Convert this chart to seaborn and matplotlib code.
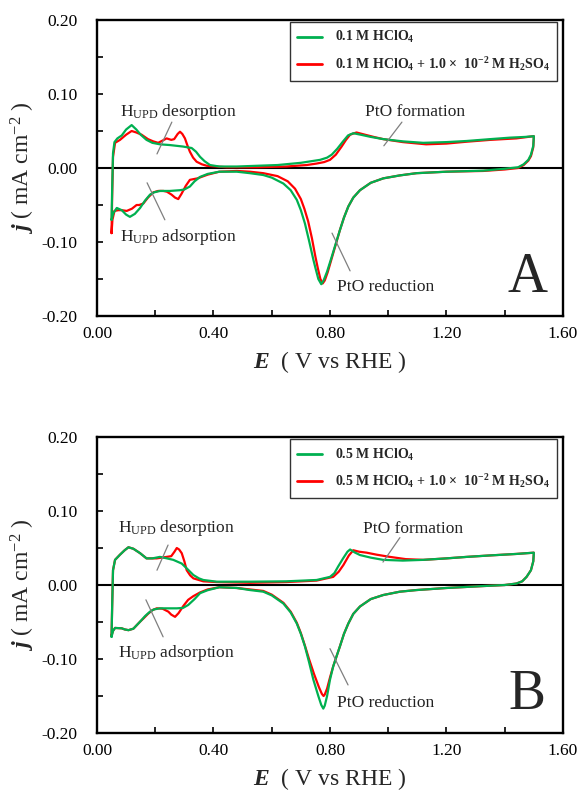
import numpy as np
import pandas as pd
import matplotlib
matplotlib.use("Agg")
import matplotlib.pyplot as plt
from matplotlib.lines import Line2D
import seaborn as sns

# ---------------------------------------------------------------------------
# Cyclic voltammograms of Pt (E in V vs RHE, j in mA cm^-2).
# Each loop: anodic sweep 0.05 -> 1.50 V, then cathodic sweep back to 0.05 V.
# ---------------------------------------------------------------------------

# Panel A, 0.1 M HClO4
a_pure_E = [0.050, 0.052, 0.055, 0.060, 0.070, 0.085, 0.100, 0.119, 0.135, 0.150,
            0.170, 0.190, 0.216, 0.250, 0.295, 0.325, 0.340, 0.354, 0.370, 0.388,
            0.420, 0.480, 0.550, 0.620, 0.700, 0.766, 0.790, 0.806, 0.825, 0.845,
            0.862, 0.880, 0.905, 0.940, 0.983, 1.050, 1.120, 1.200, 1.269, 1.350,
            1.418, 1.470, 1.500,
            1.498, 1.490, 1.481, 1.465, 1.446, 1.400, 1.326, 1.200, 1.097, 1.040,
            0.983, 0.940, 0.903, 0.880, 0.863, 0.848, 0.834, 0.820, 0.806, 0.790,
            0.778, 0.770, 0.760, 0.750, 0.743, 0.728, 0.714, 0.700, 0.686, 0.665,
            0.640, 0.600, 0.571, 0.525, 0.480, 0.420, 0.380, 0.354, 0.335, 0.319,
            0.300, 0.285, 0.250, 0.216, 0.195, 0.182, 0.165, 0.148, 0.130, 0.113,
            0.100, 0.085, 0.068, 0.056, 0.050]
a_pure_j = [-0.070, -0.030, 0.020, 0.035, 0.040, 0.044, 0.052, 0.058, 0.052, 0.045,
            0.038, 0.034, 0.032, 0.031, 0.029, 0.027, 0.022, 0.015, 0.009, 0.004,
            0.002, 0.002, 0.003, 0.004, 0.007, 0.011, 0.014, 0.018, 0.026, 0.036,
            0.044, 0.047, 0.045, 0.042, 0.039, 0.036, 0.034, 0.035, 0.0365, 0.039,
            0.041, 0.042, 0.043,
            0.030, 0.018, 0.011, 0.005, 0.001, -0.001, -0.0036, -0.005, -0.007, -0.010,
            -0.014, -0.020, -0.030, -0.040, -0.052, -0.067, -0.084, -0.102, -0.120, -0.140,
            -0.152, -0.157, -0.150, -0.135, -0.124, -0.098, -0.075, -0.057, -0.043, -0.030,
            -0.021, -0.013, -0.0095, -0.007, -0.005, -0.005, -0.008, -0.012, -0.018, -0.025,
            -0.029, -0.030, -0.031, -0.031, -0.033, -0.036, -0.044, -0.054, -0.062, -0.066,
            -0.063, -0.057, -0.054, -0.061, -0.070]

# Panel A, 0.1 M HClO4 + 1.0e-2 M H2SO4
a_mix_E = [0.050, 0.052, 0.055, 0.062, 0.079, 0.100, 0.119, 0.135, 0.153, 0.175,
           0.193, 0.210, 0.225, 0.239, 0.255, 0.265, 0.277, 0.285, 0.293, 0.302,
           0.310, 0.319, 0.330, 0.342, 0.360, 0.377, 0.445, 0.550, 0.650, 0.720,
           0.754, 0.780, 0.800, 0.820, 0.840, 0.855, 0.869, 0.891, 0.920, 0.950,
           0.983, 1.050, 1.130, 1.200, 1.269, 1.350, 1.440, 1.500,
           1.498, 1.490, 1.481, 1.465, 1.446, 1.400, 1.326, 1.200, 1.097, 1.040,
           0.983, 0.940, 0.903, 0.880, 0.863, 0.848, 0.834, 0.820, 0.806, 0.792,
           0.782, 0.775, 0.767, 0.758, 0.750, 0.738, 0.725, 0.712, 0.700, 0.680,
           0.655, 0.620, 0.571, 0.525, 0.480, 0.420, 0.380, 0.345, 0.319, 0.305,
           0.290, 0.279, 0.268, 0.256, 0.240, 0.228, 0.210, 0.193, 0.175, 0.159,
           0.145, 0.136, 0.120, 0.102, 0.085, 0.073, 0.060, 0.053, 0.050]
a_mix_j = [-0.088, -0.040, 0.015, 0.034, 0.038, 0.045, 0.050, 0.048, 0.045, 0.039,
           0.036, 0.034, 0.037, 0.040, 0.038, 0.039, 0.046, 0.049, 0.046, 0.040,
           0.031, 0.022, 0.014, 0.0085, 0.005, 0.003, 0.001, 0.001, 0.002, 0.004,
           0.006, 0.008, 0.011, 0.018, 0.029, 0.038, 0.045, 0.048, 0.045, 0.042,
           0.039, 0.035, 0.032, 0.033, 0.0355, 0.038, 0.040, 0.043,
           0.028, 0.016, 0.010, 0.004, 0.000, -0.002, -0.004, -0.005, -0.007, -0.010,
           -0.014, -0.020, -0.030, -0.040, -0.052, -0.067, -0.084, -0.103, -0.122, -0.141,
           -0.152, -0.156, -0.150, -0.135, -0.120, -0.095, -0.072, -0.055, -0.042, -0.028,
           -0.018, -0.011, -0.007, -0.005, -0.004, -0.005, -0.009, -0.014, -0.016, -0.024,
           -0.035, -0.042, -0.040, -0.036, -0.032, -0.031, -0.031, -0.033, -0.040, -0.048,
           -0.050, -0.050, -0.055, -0.058, -0.057, -0.057, -0.058, -0.070, -0.088]

# Panel B, 0.5 M HClO4
b_pure_E = [0.050, 0.052, 0.055, 0.062, 0.079, 0.095, 0.108, 0.125, 0.148, 0.170,
            0.190, 0.216, 0.240, 0.262, 0.291, 0.308, 0.331, 0.350, 0.365, 0.411,
            0.525, 0.650, 0.754, 0.800, 0.815, 0.828, 0.845, 0.860, 0.869, 0.885,
            0.903, 0.940, 0.983, 1.050, 1.120, 1.200, 1.269, 1.350, 1.440, 1.500,
            1.498, 1.490, 1.475, 1.460, 1.440, 1.400, 1.326, 1.200, 1.097, 1.040,
            0.983, 0.940, 0.903, 0.880, 0.863, 0.848, 0.834, 0.822, 0.811, 0.800,
            0.790, 0.782, 0.777, 0.770, 0.760, 0.743, 0.728, 0.714, 0.700, 0.686,
            0.665, 0.640, 0.600, 0.571, 0.525, 0.480, 0.420, 0.380, 0.354, 0.335,
            0.313, 0.295, 0.274, 0.216, 0.195, 0.182, 0.165, 0.148, 0.125, 0.108,
            0.095, 0.085, 0.062, 0.055, 0.050]
b_pure_j = [-0.070, -0.030, 0.020, 0.034, 0.041, 0.047, 0.051, 0.049, 0.043, 0.036,
            0.036, 0.038, 0.036, 0.034, 0.029, 0.0225, 0.0135, 0.009, 0.0068, 0.0045,
            0.0045, 0.005, 0.0068, 0.011, 0.016, 0.025, 0.036, 0.045, 0.048, 0.044,
            0.0405, 0.037, 0.034, 0.033, 0.034, 0.036, 0.038, 0.040, 0.042, 0.0437,
            0.032, 0.020, 0.011, 0.005, 0.002, 0.000, -0.0014, -0.004, -0.0068, -0.009,
            -0.0135, -0.019, -0.029, -0.039, -0.052, -0.066, -0.083, -0.097, -0.110, -0.128,
            -0.150, -0.163, -0.167, -0.162, -0.150, -0.128, -0.104, -0.083, -0.066, -0.052,
            -0.037, -0.025, -0.014, -0.009, -0.0068, -0.004, -0.003, -0.007, -0.011, -0.019,
            -0.027, -0.031, -0.0315, -0.0315, -0.033, -0.036, -0.042, -0.0495, -0.059, -0.061,
            -0.060, -0.0585, -0.058, -0.062, -0.070]

# Panel B, 0.5 M HClO4 + 1.0e-2 M H2SO4
b_mix_E = [0.050, 0.052, 0.055, 0.062, 0.079, 0.095, 0.108, 0.125, 0.148, 0.170,
           0.205, 0.239, 0.255, 0.266, 0.274, 0.282, 0.291, 0.300, 0.308, 0.320,
           0.331, 0.365, 0.411, 0.525, 0.650, 0.754, 0.811, 0.830, 0.846, 0.865,
           0.880, 0.900, 0.926, 0.960, 1.006, 1.060, 1.120, 1.200, 1.269, 1.350,
           1.440, 1.500,
           1.498, 1.490, 1.475, 1.460, 1.440, 1.400, 1.326, 1.200, 1.097, 1.040,
           0.983, 0.940, 0.903, 0.880, 0.863, 0.848, 0.834, 0.822, 0.811, 0.800,
           0.790, 0.782, 0.778, 0.772, 0.762, 0.745, 0.728, 0.714, 0.700, 0.686,
           0.665, 0.640, 0.600, 0.571, 0.525, 0.480, 0.420, 0.380, 0.354, 0.331,
           0.313, 0.297, 0.280, 0.268, 0.255, 0.245, 0.225, 0.205, 0.190, 0.175,
           0.160, 0.148, 0.125, 0.108, 0.095, 0.085, 0.062, 0.055, 0.050]
b_mix_j = [-0.068, -0.030, 0.020, 0.034, 0.041, 0.047, 0.051, 0.049, 0.043, 0.036,
           0.036, 0.038, 0.039, 0.045, 0.050, 0.048, 0.043, 0.032, 0.020, 0.013,
           0.009, 0.005, 0.004, 0.003, 0.004, 0.006, 0.011, 0.018, 0.027, 0.040,
           0.047, 0.045, 0.0437, 0.041, 0.038, 0.035, 0.034, 0.036, 0.038, 0.040,
           0.042, 0.0437,
           0.032, 0.020, 0.011, 0.005, 0.002, 0.000, -0.0014, -0.004, -0.0068, -0.009,
           -0.0135, -0.019, -0.029, -0.039, -0.052, -0.066, -0.083, -0.097, -0.110, -0.125,
           -0.140, -0.148, -0.150, -0.147, -0.138, -0.120, -0.100, -0.082, -0.065, -0.051,
           -0.036, -0.024, -0.013, -0.008, -0.006, -0.004, -0.003, -0.006, -0.010, -0.015,
           -0.020, -0.028, -0.038, -0.043, -0.040, -0.036, -0.032, -0.0315, -0.034, -0.039,
           -0.045, -0.0495, -0.059, -0.061, -0.060, -0.0585, -0.058, -0.062, -0.068]

# Legend labels
a_labels = ["0.1 M HClO$_\\mathbf{4}$",
            "0.1 M HClO$_\\mathbf{4}$ + 1.0 \u00d7  10$^{\\mathbf{-2}}$ M H$_\\mathbf{2}$SO$_\\mathbf{4}$"]
b_labels = ["0.5 M HClO$_\\mathbf{4}$",
            "0.5 M HClO$_\\mathbf{4}$ + 1.0 \u00d7  10$^{\\mathbf{-2}}$ M H$_\\mathbf{2}$SO$_\\mathbf{4}$"]

# Axis ticks
x_ticks = [0.0, 0.4, 0.8, 1.2, 1.6]
x_tick_labels = ["0.00", "0.40", "0.80", "1.20", "1.60"]
y_ticks = [-0.2, -0.1, 0.0, 0.1, 0.2]
y_tick_labels = ["-0.20", "-0.10", "0.00", "0.10", "0.20"]

# Region labels: text, text anchor (E, j), leader line start and end
a_notes = [
    ("H$_{\\rm UPD}$ desorption", (0.079, 0.070), (0.206, 0.019), (0.257, 0.062)),
    ("H$_{\\rm UPD}$ adsorption", (0.079, -0.099), (0.172, -0.020), (0.233, -0.070)),
    ("PtO formation", (0.920, 0.070), (1.047, 0.062), (0.985, 0.030)),
    ("PtO reduction", (0.824, -0.166), (0.807, -0.088), (0.869, -0.139)),
]
b_notes = [
    ("H$_{\\rm UPD}$ desorption", (0.072, 0.0715), (0.206, 0.020), (0.244, 0.054)),
    ("H$_{\\rm UPD}$ adsorption", (0.072, -0.097), (0.168, -0.020), (0.227, -0.070)),
    ("PtO formation", (0.913, 0.0707), (1.040, 0.064), (0.982, 0.031)),
    ("PtO reduction", (0.824, -0.165), (0.800, -0.086), (0.862, -0.135)),
]

GREEN = "#00B050"
RED = "#FF0000"

sns.set_theme(style="white")
plt.rcParams["font.family"] = ["Liberation Serif", "DejaVu Serif"]
plt.rcParams.update({
    "mathtext.fontset": "custom",
    "mathtext.rm": "Liberation Serif",
    "mathtext.it": "Liberation Serif:italic",
    "mathtext.bf": "Liberation Serif:bold",
    "mathtext.bfit": "Liberation Serif:italic:bold",
    "axes.unicode_minus": False,
})


def loop_frame(E, j, name):
    return pd.DataFrame({"E": E, "j": j, "electrolyte": name})


def draw_panel(ax, pure, mix, labels, letter, notes):
    df = pd.concat([loop_frame(*mix, labels[1]), loop_frame(*pure, labels[0])],
                   ignore_index=True)
    ax.axhline(0.0, color="black", lw=1.5, zorder=1)
    sns.lineplot(data=df, x="E", y="j", hue="electrolyte",
                 hue_order=[labels[1], labels[0]],
                 palette={labels[1]: RED, labels[0]: GREEN},
                 sort=False, estimator=None, lw=1.6, legend=False, ax=ax, zorder=2)

    ax.set_xlim(0.0, 1.6)
    ax.set_ylim(-0.2, 0.2)
    ax.set_xticks(x_ticks)
    ax.set_xticklabels(x_tick_labels)
    ax.set_xticks([0.2, 0.6, 1.0, 1.4], minor=True)
    ax.set_yticks(y_ticks)
    ax.set_yticklabels(y_tick_labels)
    ax.set_yticks([-0.15, -0.05, 0.05, 0.15], minor=True)
    ax.tick_params(axis="both", which="both", direction="in", length=4, width=1.2,
                   colors="black", labelsize=12.5, left=True, bottom=True)
    ax.tick_params(axis="x", which="major", pad=7)
    ax.tick_params(axis="y", which="major", pad=14)
    for s in ax.spines.values():
        s.set_color("black")
        s.set_linewidth(1.7)

    ax.set_xlabel("$\\mathbfit{E}$  ( V vs RHE )", fontsize=17, labelpad=5)
    ax.set_ylabel("$\\mathbfit{j}$ ( mA cm$^{-2}$ )", fontsize=17, labelpad=3)

    handles = [Line2D([], [], color=GREEN, lw=2), Line2D([], [], color=RED, lw=2)]
    leg = ax.legend(handles, labels, loc="upper right", bbox_to_anchor=(0.988, 0.994),
                    borderaxespad=0.0, frameon=True, fancybox=False, edgecolor="black",
                    handlelength=1.8, handletextpad=0.9, labelspacing=0.7,
                    borderpad=0.55, prop={"family": "Liberation Serif",
                                          "weight": "bold", "size": 10})
    leg.get_frame().set_linewidth(1.0)

    for text, (tx, ty), (x0, y0), (x1, y1) in notes:
        ax.text(tx, ty, text, fontsize=12.5, ha="left", va="baseline", color="#222222")
        ax.plot([x0, x1], [y0, y1], color="#7f7f7f", lw=0.9, zorder=3)

    ax.text(0.923, 0.128, letter, transform=ax.transAxes, fontsize=40,
            ha="center", va="center")


fig = plt.figure(figsize=(5.77, 7.96), dpi=100)
fig.patch.set_facecolor("white")
ax_a = fig.add_axes([0.1681, 0.6030, 0.8076, 0.3719])
ax_b = fig.add_axes([0.1681, 0.0791, 0.8076, 0.3719])

draw_panel(ax_a, (a_pure_E, a_pure_j), (a_mix_E, a_mix_j), a_labels, "A", a_notes)
draw_panel(ax_b, (b_pure_E, b_pure_j), (b_mix_E, b_mix_j), b_labels, "B", b_notes)

fig.savefig("out.png", dpi=100, facecolor="white")
